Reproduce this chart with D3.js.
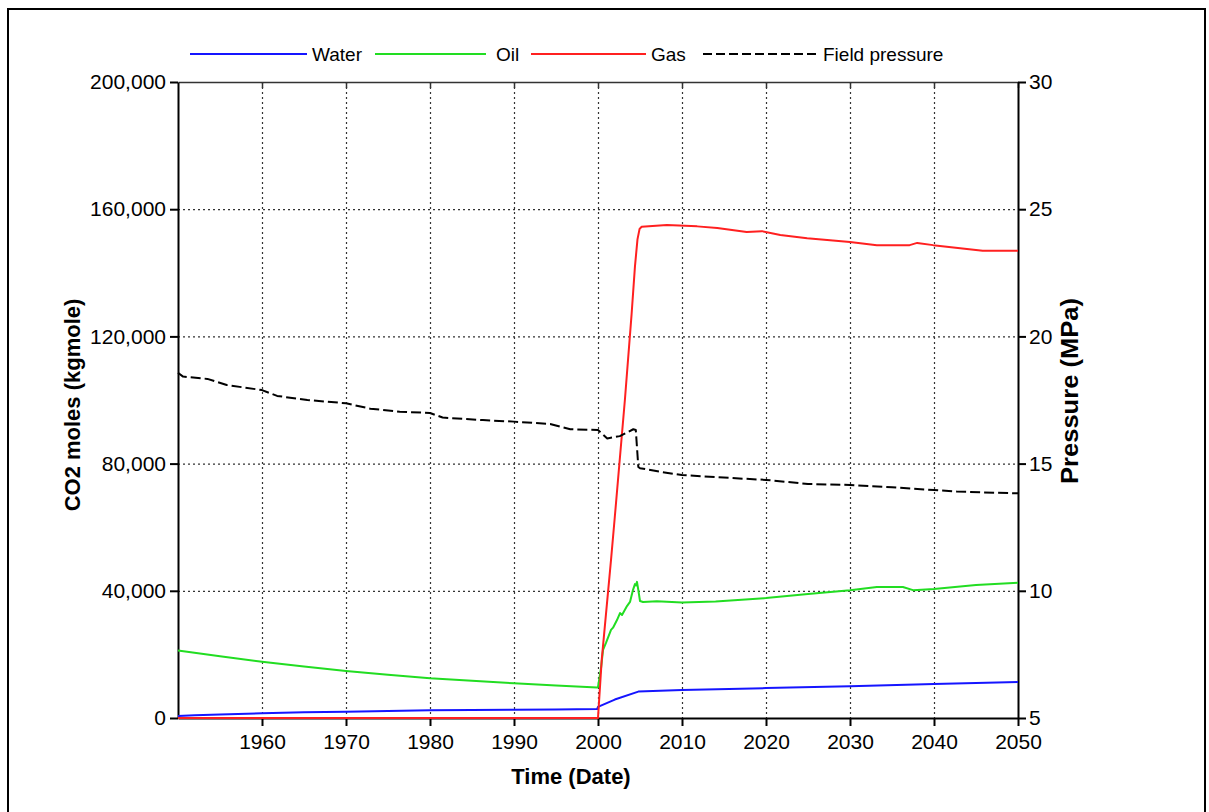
<!DOCTYPE html>
<html>
<head>
<meta charset="utf-8">
<script src="https://cdn.jsdelivr.net/npm/d3@7"></script>
<style>
  body { margin: 0; background: #fff; }
  svg { display: block; font-family: "Liberation Sans", Arial, sans-serif; }
</style>
</head>
<body>
<svg id="chart" width="1209" height="812"></svg>
<script>
// CO2 moles dissolved in each phase (kgmole) and average field pressure (MPa)
const waterYears = [1950, 1952, 1955, 1960, 1965, 1970, 1975, 1980, 1985, 1990, 1995, 1999.9, 2000, 2002, 2004.8, 2010, 2020, 2030, 2040, 2050];
const waterMoles = [600, 900, 1100, 1500, 1800, 2000, 2200, 2400, 2500, 2600, 2700, 2800, 3500, 5800, 8300, 8800, 9400, 10000, 10700, 11300];

const oilYears = [1950, 1955, 1960, 1965, 1970, 1975, 1980, 1985, 1990, 1995, 1999.9, 2000, 2000.36, 2000.6, 2000.95, 2001.55, 2001.79, 2002.26, 2002.62, 2002.86, 2003.45, 2003.81, 2004.17, 2004.4, 2004.52, 2004.64, 2004.76, 2005.0, 2005.36, 2007, 2010, 2014, 2020, 2025, 2030, 2033.2, 2036.3, 2037.5, 2040, 2045, 2050];
const oilMoles = [21200, 19400, 17700, 16200, 14800, 13600, 12500, 11700, 10900, 10200, 9600, 9800, 15700, 21400, 23600, 27700, 28400, 30800, 33000, 32400, 35200, 36500, 40300, 42100, 41700, 42800, 40900, 36800, 36500, 36700, 36300, 36600, 37700, 39000, 40200, 41200, 41200, 40200, 40600, 41800, 42500];

const gasYears = [1950, 2000, 2000.44, 2001.55, 2002.0, 2003.2, 2004.0, 2004.4, 2004.7, 2004.95, 2005.2, 2008.2, 2011.8, 2014.2, 2017.7, 2019.5, 2021.7, 2024.9, 2030, 2033.2, 2037.1, 2038, 2039.9, 2045.8, 2050];
const gasMoles = [0, 0, 18200, 49700, 63200, 100000, 127000, 142000, 150500, 153800, 154500, 155000, 154600, 154100, 152800, 153100, 151900, 150900, 149700, 148700, 148700, 149400, 148700, 146900, 146900];

const pressureYears = [1950, 1950.6, 1953.5, 1955.8, 1960, 1961.8, 1965.4, 1970, 1972.9, 1976.4, 1980, 1981.5, 1986.3, 1990, 1994.3, 1996.7, 2000, 2001.1, 2002.6, 2004.2, 2004.5, 2004.8, 2005, 2007.4, 2010, 2016, 2020, 2025, 2030, 2035, 2040, 2042.7, 2050];
const pressureMPa = [18.57, 18.42, 18.33, 18.09, 17.89, 17.66, 17.5, 17.37, 17.16, 17.04, 16.99, 16.81, 16.71, 16.65, 16.56, 16.35, 16.32, 15.99, 16.08, 16.35, 16.32, 14.87, 14.82, 14.68, 14.55, 14.43, 14.36, 14.2, 14.16, 14.07, 13.96, 13.9, 13.83];

const yearTicks = [1960, 1970, 1980, 1990, 2000, 2010, 2020, 2030, 2040, 2050];
const molesTicks = [0, 40000, 80000, 120000, 160000, 200000];
const pressureTicks = [5, 10, 15, 20, 25, 30];

const seriesNames = ["Water", "Oil", "Gas", "Field pressure"];

const svg = d3.select("#chart");
const plotLeft = 178, plotRight = 1018, plotTop = 82, plotBottom = 718;

const x = d3.scaleLinear().domain([1950, 2050]).range([plotLeft, plotRight]);
const yMoles = d3.scaleLinear().domain([0, 200000]).range([plotBottom, plotTop]);
const yPress = d3.scaleLinear().domain([5, 30]).range([plotBottom, plotTop]);

// outer frame
svg.append("rect")
  .attr("x", 8).attr("y", 9).attr("width", 1197).attr("height", 830)
  .attr("fill", "none").attr("stroke", "#000").attr("stroke-width", 2);

// dotted grid
const grid = svg.append("g")
  .attr("stroke", "#333").attr("stroke-width", 1.2).attr("stroke-dasharray", "2,3");
grid.selectAll("line.v").data(yearTicks.filter(d => d < 2050)).join("line")
  .attr("class", "v")
  .attr("x1", d => x(d) + 0.5).attr("x2", d => x(d) + 0.5)
  .attr("y1", plotTop).attr("y2", plotBottom);
grid.selectAll("line.h").data(molesTicks.filter(d => d > 0 && d < 200000)).join("line")
  .attr("class", "h")
  .attr("x1", plotLeft).attr("x2", plotRight)
  .attr("y1", d => yMoles(d) + 0.5).attr("y2", d => yMoles(d) + 0.5);

// top frame with inward ticks
const topAxis = svg.append("g").attr("transform", `translate(0,${plotTop})`)
  .call(d3.axisTop(x).tickValues(yearTicks).tickSize(-6).tickSizeOuter(0).tickFormat(""));
topAxis.selectAll("path, line").attr("stroke", "#333").attr("stroke-width", 1.5);

function styleAxis(g) {
  g.selectAll("path, line").attr("stroke", "#000").attr("stroke-width", 2);
  g.selectAll("text").attr("fill", "#000").style("font-size", "21px")
    .style("font-family", '"Liberation Sans", Arial, sans-serif');
}

svg.append("g").attr("transform", `translate(0,${plotBottom})`)
  .call(d3.axisBottom(x).tickValues(yearTicks).tickSize(8).tickSizeOuter(0).tickPadding(8).tickFormat(d3.format("d")))
  .call(styleAxis);

svg.append("g").attr("transform", `translate(${plotLeft},0)`)
  .call(d3.axisLeft(yMoles).tickValues(molesTicks).tickSize(8).tickSizeOuter(0).tickPadding(4).tickFormat(d3.format(",")))
  .call(styleAxis);

svg.append("g").attr("transform", `translate(${plotRight},0)`)
  .call(d3.axisRight(yPress).tickValues(pressureTicks).tickSize(8).tickSizeOuter(0).tickPadding(3).tickFormat(d3.format("d")))
  .call(styleAxis);

// series
const zip = (xs, ys) => xs.map((d, i) => [d, ys[i]]);
const molesLine = d3.line().x(d => x(d[0])).y(d => yMoles(d[1]));
const pressLine = d3.line().x(d => x(d[0])).y(d => yPress(d[1]));

const plot = svg.append("g").attr("fill", "none").attr("stroke-width", 2).attr("stroke-linejoin", "round");
plot.append("path").datum(zip(waterYears, waterMoles)).attr("d", molesLine).attr("stroke", "#1515ff");
plot.append("path").datum(zip(oilYears, oilMoles)).attr("d", molesLine).attr("stroke", "#22dd22");
plot.append("path").datum(zip(gasYears, gasMoles)).attr("d", molesLine).attr("stroke", "#ff2020");
plot.append("path").datum(zip(pressureYears, pressureMPa)).attr("d", pressLine)
  .attr("stroke", "#000").attr("stroke-dasharray", "10,4");

// axis titles
const titleFont = g => g.attr("fill", "#000").style("font-size", "22px").style("font-weight", "bold");
svg.append("text").attr("transform", "translate(80,405) rotate(-90)")
  .attr("text-anchor", "middle").text("CO2 moles (kgmole)").call(titleFont);
svg.append("text").attr("transform", "translate(1078,391) rotate(-90)")
  .attr("text-anchor", "middle").attr("textLength", 186).attr("lengthAdjust", "spacingAndGlyphs")
  .text("Pressure (MPa)").call(titleFont).style("font-size", "23px");
svg.append("text").attr("x", 571).attr("y", 784)
  .attr("text-anchor", "middle").text("Time (Date)").call(titleFont);

// legend
const legendItems = [
  { x1: 190, x2: 307, tx: 312, color: "#1515ff", dash: null },
  { x1: 375, x2: 486, tx: 496, color: "#22dd22", dash: null },
  { x1: 531, x2: 646, tx: 651, color: "#ff2020", dash: null },
  { x1: 703, x2: 818, tx: 823, color: "#000", dash: "9,4" }
];
const legend = svg.append("g");
legendItems.forEach((it, i) => {
  legend.append("line").attr("x1", it.x1).attr("x2", it.x2).attr("y1", 54).attr("y2", 54)
    .attr("stroke", it.color).attr("stroke-width", 2).attr("stroke-dasharray", it.dash);
  legend.append("text").attr("x", it.tx).attr("y", 61).text(seriesNames[i])
    .attr("fill", "#000").style("font-size", "19px");
});
</script>
</body>
</html>
